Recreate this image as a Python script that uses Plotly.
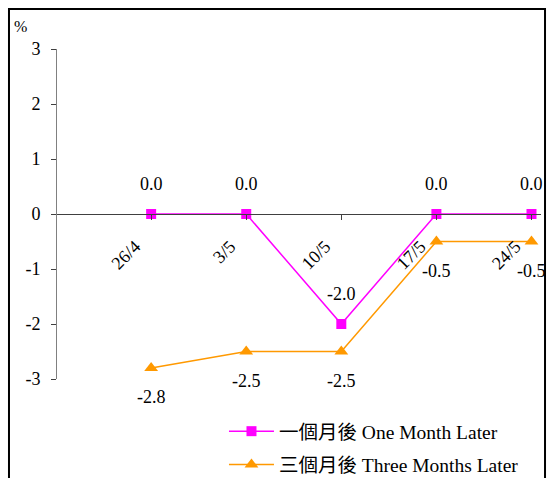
import plotly.graph_objects as go

categories = ["26/4", "3/5", "10/5", "17/5", "24/5"]
one_month = [0.0, 0.0, -2.0, 0.0, 0.0]
three_months = [-2.8, -2.5, -2.5, -0.5, -0.5]
y_ticks = [-3, -2, -1, 0, 1, 2, 3]
name_one = "一個月後 One Month Later"
name_three = "三個月後 Three Months Later"

FONT = "Liberation Serif, Noto Sans CJK TC"
FS = 18
xs = list(range(len(categories)))

fig = go.Figure()
fig.add_trace(go.Scatter(
    x=xs, y=one_month, name=name_one, mode="lines+markers",
    line=dict(color="#FF00FF", width=1.5),
    marker=dict(symbol="square", size=10, color="#FF00FF"),
    legendgroup="a", cliponaxis=False,
))
fig.add_trace(go.Scatter(
    x=xs, y=three_months, name=name_three, mode="lines+markers",
    line=dict(color="#FF9900", width=1.5),
    marker=dict(symbol="triangle-up", size=12, color="#FF9900"),
    legendgroup="b", cliponaxis=False,
))

annotations = []
for x, v in zip(xs, one_month):
    annotations.append(dict(x=x, y=v, text=f"{v:.1f}", showarrow=False,
                            yshift=30, font=dict(family=FONT, size=FS, color="black")))
for x, v in zip(xs, three_months):
    annotations.append(dict(x=x, y=v, text=f"{v:.1f}", showarrow=False,
                            yshift=-29, font=dict(family=FONT, size=FS, color="black")))
annotations.append(dict(text="%", xref="paper", yref="paper", x=-0.093, y=1.035,
                        xanchor="left", yanchor="bottom", showarrow=False,
                        font=dict(family=FONT, size=16, color="black")))

fig.update_layout(
    width=547, height=478,
    margin=dict(l=57, r=6, t=49, b=99, autoexpand=False),
    paper_bgcolor="white", plot_bgcolor="white",
    font=dict(family=FONT, size=FS, color="black"),
    showlegend=True,
    legend=dict(x=0.345, y=-0.1, xanchor="left", yanchor="top",
                font=dict(family=FONT, size=19.5, color="black"), tracegroupgap=5,
                itemwidth=45, bgcolor="rgba(0,0,0,0)"),
    xaxis=dict(
        range=[-0.99, 4.1], tickmode="array", tickvals=xs, ticktext=categories,
        tickangle=-45, anchor="free", position=0.5,
        showline=True, linecolor="#404040", linewidth=1,
        ticks="outside", ticklen=5, tickcolor="#404040",
        showgrid=False, zeroline=False,
        ticklabelshift=-16, ticklabelstandoff=9,
        tickfont=dict(family=FONT, size=FS, color="black"),
    ),
    yaxis=dict(
        range=[-3, 3], tickmode="array", tickvals=y_ticks,
        ticktext=[str(t) for t in y_ticks],
        showline=True, linecolor="#808080", linewidth=1,
        ticks="outside", ticklen=5, tickcolor="#404040",
        showgrid=False, zeroline=False, ticklabelstandoff=7,
        tickfont=dict(family=FONT, size=FS, color="black"),
    ),
    annotations=annotations,
    shapes=[dict(type="rect", xref="paper", yref="paper",
                 x0=-0.0992, x1=1.0083, y0=-0.5, y1=1.121,
                 line=dict(color="black", width=2), fillcolor="rgba(0,0,0,0)",
                 layer="below")],
)

fig.write_html("out.html", config={"displayModeBar": False},
               post_script="document.body.style.margin='0';document.body.style.overflow='hidden';")
